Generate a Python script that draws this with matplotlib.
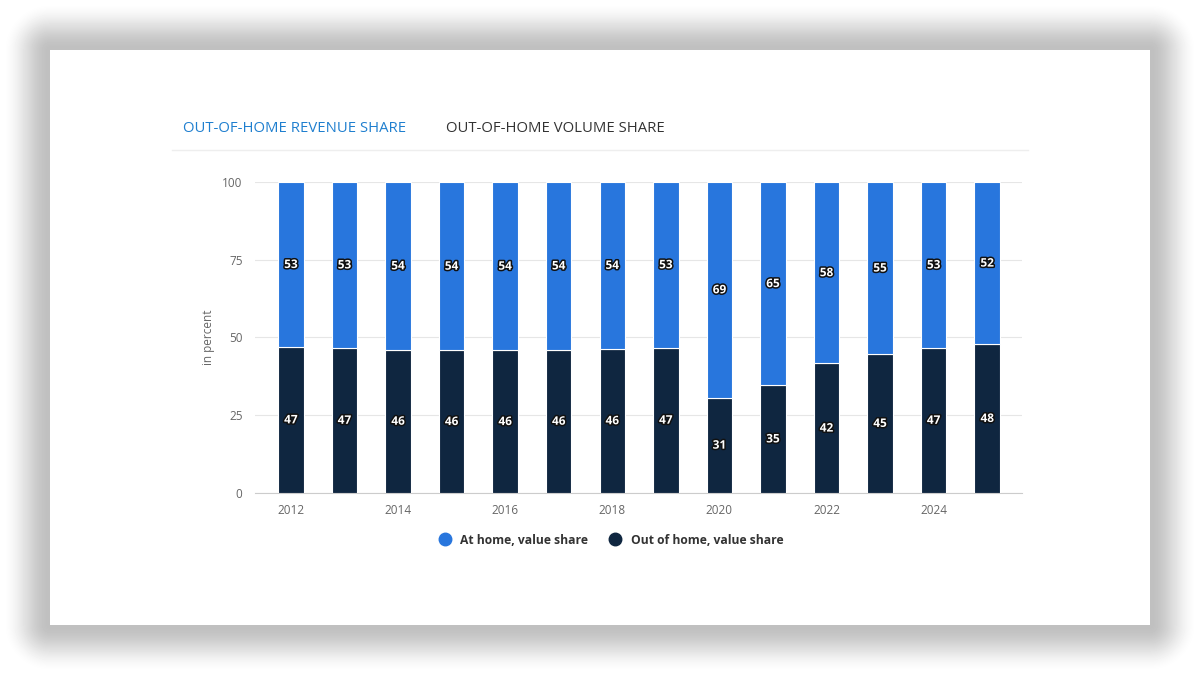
import numpy as np
import matplotlib
matplotlib.use("Agg")
import matplotlib.pyplot as plt
import matplotlib.patheffects as pe
from matplotlib.lines import Line2D

plt.rcParams['font.family'] = ['Open Sans', 'DejaVu Sans']

# data
years = [2012, 2013, 2014, 2015, 2016, 2017, 2018, 2019, 2020, 2021, 2022, 2023, 2024, 2025]
out_home = [46.9, 46.6, 46.0, 45.8, 45.8, 46.0, 46.3, 46.7, 30.6, 34.6, 41.6, 44.6, 46.6, 47.8]
at_home = [53.1, 53.4, 54.0, 54.2, 54.2, 54.0, 53.7, 53.3, 69.4, 65.4, 58.4, 55.4, 53.4, 52.2]
tick_years = [2012, 2014, 2016, 2018, 2020, 2022, 2024]
y_ticks = [0, 25, 50, 75, 100]

c_at = '#2876dd'
c_out = '#0f2640'

W, H = 1200, 675
fig = plt.figure(figsize=(12, 6.75), dpi=100)

# card shadow background
bg = fig.add_axes([0, 0, 1, 1])
bg.set_axis_off()
yy, xx = np.mgrid[0:H, 0:W] + 0.5
dx = np.maximum(np.maximum(50 - xx, xx - 1150), 0)
dy = np.maximum(np.maximum(50 - yy, yy - 625), 0)
d = np.sqrt(dx**2 + dy**2)
t = np.clip(d / 48, 0, 1)
t = t * t * (3 - 2 * t)
shade = 0.75 + 0.25 * t
shade[(xx >= 50) & (xx <= 1150) & (yy >= 50) & (yy <= 625)] = 1.0
bg.imshow(shade, cmap='gray', vmin=0, vmax=1, extent=[0, W, H, 0], aspect='auto', interpolation='bilinear')
bg.set_xlim(0, W)
bg.set_ylim(H, 0)

# tabs
bg.text(183, 129, 'OUT-OF-HOME REVENUE SHARE', color='#1f7fcf', fontsize=10.7, va='center', ha='left')
bg.text(446, 129, 'OUT-OF-HOME VOLUME SHARE', color='#333333', fontsize=10.7, va='center', ha='left')
bg.plot([172, 1028], [150, 150], color='#eeeeee', lw=1)

# main chart
ax = fig.add_axes([255 / W, (H - 492.7) / H, 767 / W, (492.7 - 182) / H])
ax.bar(years, out_home, width=0.475, color=c_out, edgecolor='white', linewidth=0.8, zorder=3)
ax.bar(years, at_home, width=0.475, bottom=out_home, color=c_at, edgecolor='white', linewidth=0.8, zorder=3)

stroke = [pe.withStroke(linewidth=2.2, foreground='#111111')]
for x, o, a in zip(years, out_home, at_home):
    ax.text(x, o / 2, f'{round(o):d}', ha='center', va='center', color='white',
            fontsize=8.5, fontweight='bold', path_effects=stroke, zorder=5)
    ax.text(x, o + a / 2, f'{round(a):d}', ha='center', va='center', color='white',
            fontsize=8.5, fontweight='bold', path_effects=stroke, zorder=5)

ax.set_xlim(2011.33, 2025.65)
ax.set_ylim(0, 100)
ax.set_xticks(tick_years)
ax.set_xticklabels([str(y) for y in tick_years])
ax.set_yticks(y_ticks)
ax.grid(axis='y', color='#e6e6e6', lw=0.8, zorder=0)
for s in ['top', 'right', 'left']:
    ax.spines[s].set_visible(False)
ax.spines['bottom'].set_color('#cccccc')
ax.tick_params(axis='both', length=0, labelsize=8.5, colors='#666666')
ax.tick_params(axis='x', pad=8)
ax.tick_params(axis='y', pad=9)
ax.set_ylabel('in percent', color='#666666', fontsize=8.5, labelpad=5)

handles = [
    Line2D([], [], marker='o', linestyle='none', markersize=9, color=c_at, label='At home, value share'),
    Line2D([], [], marker='o', linestyle='none', markersize=9, color=c_out, label='Out of home, value share'),
]
leg = fig.legend(handles=handles, loc='center', bbox_to_anchor=(608 / W, 1 - 540 / H), ncol=2,
                 frameon=False, fontsize=8.7, handletextpad=0.3, columnspacing=1.2)
for txt in leg.get_texts():
    txt.set_color('#333333')
    txt.set_fontweight('bold')

fig.savefig('out.png', dpi=100)
